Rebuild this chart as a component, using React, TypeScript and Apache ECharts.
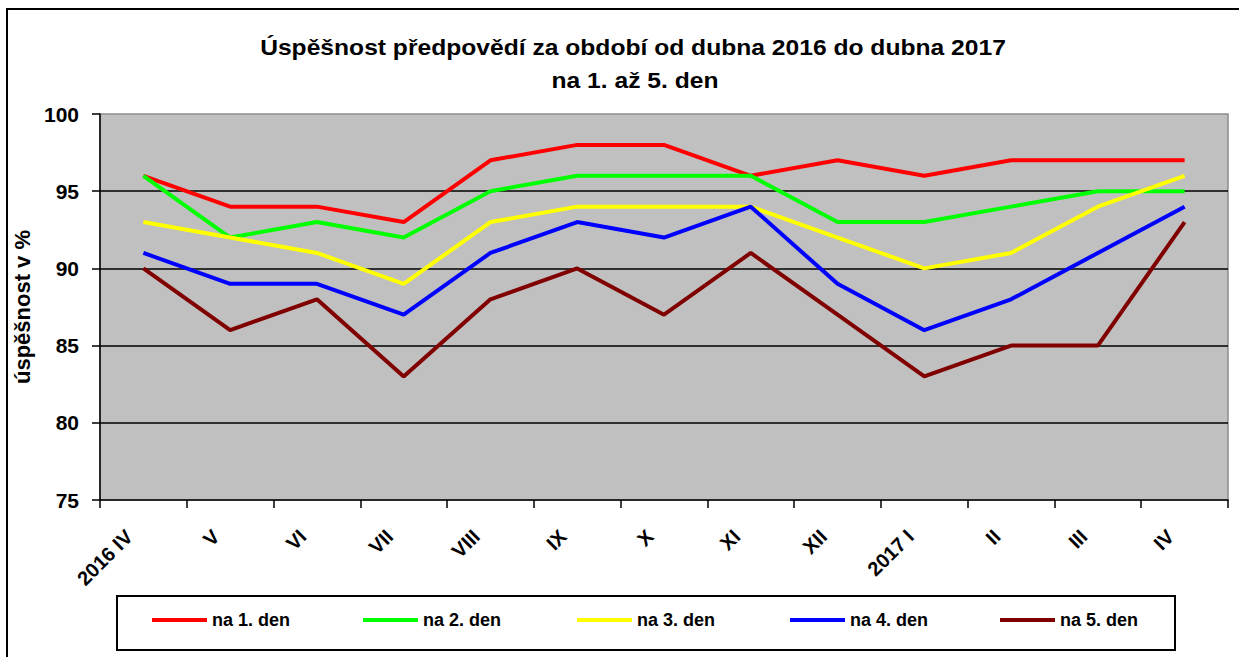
import React, { useEffect, useRef } from "react";
import * as echarts from "echarts";

const categories = ["2016 IV", "V", "VI", "VII", "VIII", "IX", "X", "XI", "XII", "2017 I", "II", "III", "IV"];
const day1 = [96, 94, 94, 93, 97, 98, 98, 96, 97, 96, 97, 97, 97];
const day2 = [96, 92, 93, 92, 95, 96, 96, 96, 93, 93, 94, 95, 95];
const day3 = [93, 92, 91, 89, 93, 94, 94, 94, 92, 90, 91, 94, 96];
const day4 = [91, 89, 89, 87, 91, 93, 92, 94, 89, 86, 88, 91, 94];
const day5 = [90, 86, 88, 83, 88, 90, 87, 91, 87, 83, 85, 85, 93];
const seriesNames = ["na 1. den", "na 2. den", "na 3. den", "na 4. den", "na 5. den"];
const seriesData = [day1, day2, day3, day4, day5];
const seriesColors = ["#ff0000", "#00ff00", "#ffff00", "#0000ff", "#800000"];
const titleLines = ["Úspěšnost předpovědí za období od dubna 2016 do dubna 2017", "na 1. až 5. den"];
const yName = "úspěšnost v %";
const legendLefts = [152, 363, 577, 790, 1000];

const FONT = "'Liberation Sans', Arial, sans-serif";

export default function App() {
  const ref = useRef<HTMLDivElement>(null);
  useEffect(() => {
    if (!ref.current) return;
    const chart = echarts.init(ref.current, null, { renderer: "svg" });
    chart.setOption({
      animation: false,
      backgroundColor: "#ffffff",
      textStyle: { fontFamily: FONT },
      graphic: [
        {
          type: "rect",
          shape: { x: 7, y: 9, width: 1300, height: 700 },
          style: { fill: "none", stroke: "#000", lineWidth: 2 },
          silent: true,
        },
        {
          type: "rect",
          shape: { x: 117, y: 596, width: 1058, height: 54 },
          style: { fill: "none", stroke: "#000", lineWidth: 2 },
          silent: true,
        },
        {
          type: "text",
          x: 633,
          y: 47,
          scaleX: 1.12,
          style: {
            text: titleLines[0],
            fontFamily: FONT,
            fontSize: 22,
            fontWeight: "bold",
            fill: "#000",
            align: "center",
            verticalAlign: "middle",
          },
        },
        {
          type: "text",
          x: 635,
          y: 80,
          scaleX: 1.12,
          style: {
            text: titleLines[1],
            fontFamily: FONT,
            fontSize: 22,
            fontWeight: "bold",
            fill: "#000",
            align: "center",
            verticalAlign: "middle",
          },
        },
      ],
      legend: seriesNames.map((n, i) => ({
        data: [n],
        left: legendLefts[i],
        top: 611,
        padding: 0,
        itemWidth: 55,
        itemHeight: 4,
        icon: "rect",
        selectedMode: false,
        textStyle: { fontFamily: FONT, fontSize: 18, fontWeight: "bold", color: "#000" },
      })),
      grid: {
        left: 100,
        right: 11,
        top: 114,
        bottom: 157,
        show: true,
        backgroundColor: "#c0c0c0",
        borderColor: "#8c8c8c",
        borderWidth: 1.5,
      },
      xAxis: {
        type: "category",
        data: categories,
        boundaryGap: true,
        axisLine: { show: true, lineStyle: { color: "#000", width: 1.5 } },
        axisTick: { show: true, alignWithLabel: false, length: 8, lineStyle: { color: "#000", width: 1.5 } },
        axisLabel: {
          interval: 0,
          rotate: 45,
          margin: 19,
          padding: [0, 20, 0, 0],
          fontFamily: FONT,
          fontSize: 20,
          fontWeight: "bold",
          color: "#000",
        },
      },
      yAxis: {
        type: "value",
        min: 75,
        max: 100,
        interval: 5,
        name: yName,
        nameLocation: "middle",
        nameGap: 62,
        nameTextStyle: { fontFamily: FONT, fontSize: 22, fontWeight: "bold", color: "#000" },
        axisLine: { show: true, lineStyle: { color: "#000", width: 1.5 } },
        axisTick: { show: true, length: 8, lineStyle: { color: "#000", width: 1.5 } },
        axisLabel: { margin: 21, fontFamily: FONT, fontSize: 21, fontWeight: "bold", color: "#000" },
        splitLine: {
          show: true,
          lineStyle: { color: ["transparent", "#000", "#000", "#000", "#000", "transparent"], width: 1.5 },
        },
      },
      series: seriesNames.map((n, i) => ({
        name: n,
        type: "line",
        data: seriesData[i],
        symbol: "none",
        lineStyle: { color: seriesColors[i], width: 4 },
        itemStyle: { color: seriesColors[i] },
      })),
    });
    return () => chart.dispose();
  }, []);
  return <div ref={ref} style={{ position: "absolute", left: 0, top: 0, width: 1239, height: 657 }} />;
}
